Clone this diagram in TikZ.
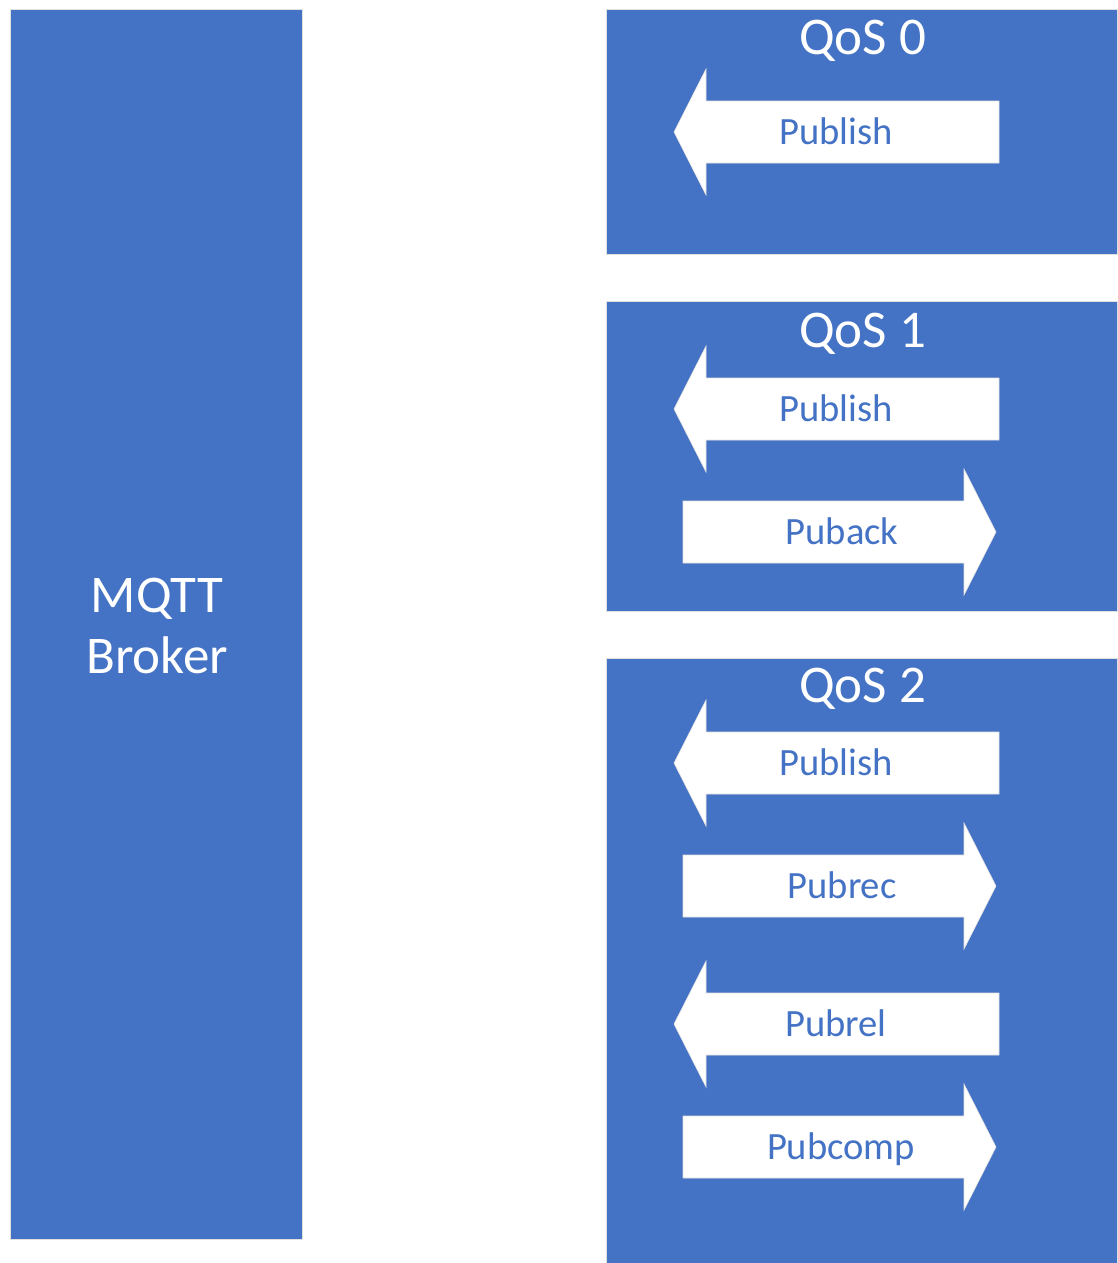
\documentclass[tikz,border=0pt]{standalone}
\usepackage{fontspec}
\setmainfont{Carlito}
\definecolor{officeblue}{HTML}{4472C4}
\tikzset{
  panel/.style={fill=officeblue, draw=black!12, line width=0.8pt},
  bigtext/.style={text=white, font=\fontsize{53}{62}\selectfont, inner sep=0pt, anchor=base},
  msgtext/.style={text=officeblue, font=\fontsize{38.6}{44}\selectfont, inner sep=0pt, anchor=base},
  % white block arrow pointing left, origin at its centre
  leftmsg/.pic={
    \fill[white, draw=black!12, line width=0.6pt]
      (-162.5,0) -- (-130.5,-63) -- (-130.5,-31) -- (162.5,-31)
      -- (162.5,31) -- (-130.5,31) -- (-130.5,63) -- cycle;
  },
  % white block arrow pointing right, origin at its centre
  rightmsg/.pic={
    \fill[white, draw=black!12, line width=0.6pt]
      (156.5,0) -- (124.5,-63) -- (124.5,-31) -- (-156.5,-31)
      -- (-156.5,31) -- (124.5,31) -- (124.5,63) -- cycle;
  }
}
\begin{document}
\begin{tikzpicture}[x=1pt, y=-1pt]
  \useasboundingbox (0,0) rectangle (1117,1263);

  % broker column
  \draw[panel] (10,9) rectangle (302,1239);
  \node[bigtext] (mqtt) at (157,612) {MQTT};
  \node[bigtext] (broker) at (157,673) {Broker};

  % QoS panels
  \draw[panel] (606,9) rectangle (1117,254);
  \draw[panel] (606,301) rectangle (1117,611);
  \draw[panel] (606,658) rectangle (1117,1263);
  \node[bigtext] (q0) at (862.5,55) {QoS 0};
  \node[bigtext] (q1) at (862.5,347) {QoS 1};
  \node[bigtext] (q2) at (862.5,702) {QoS 2};

  % QoS 0 exchange
  \pic at (836.5,132) {leftmsg};
  \node[msgtext] (pub0) at (836,144.5) {Publish};

  % QoS 1 exchange
  \pic at (836.5,409) {leftmsg};
  \node[msgtext] (pub1) at (836,421.5) {Publish};
  \pic at (839.5,532) {rightmsg};
  \node[msgtext] (puback) at (842,544.5) {Puback};

  % QoS 2 exchange
  \pic at (836.5,763) {leftmsg};
  \node[msgtext] (pub2) at (836,775.5) {Publish};
  \pic at (839.5,886) {rightmsg};
  \node[msgtext] (pubrec) at (842,898.5) {Pubrec};
  \pic at (836.5,1024) {leftmsg};
  \node[msgtext] (pubrel) at (836,1036.5) {Pubrel};
  \pic at (839.5,1147) {rightmsg};
  \node[msgtext] (pubcomp) at (841,1159.5) {Pubcomp};
\end{tikzpicture}
\end{document}
